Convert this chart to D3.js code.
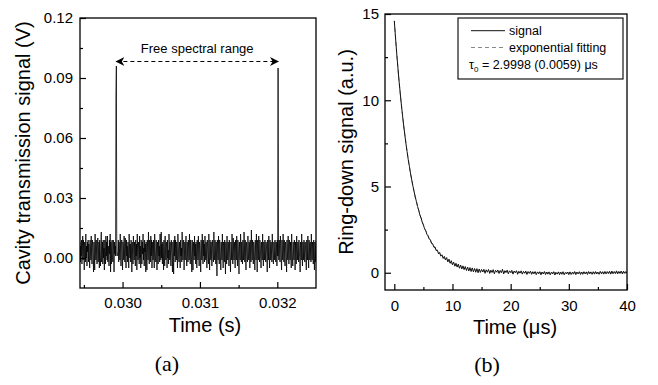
<!DOCTYPE html>
<html>
<head>
<meta charset="utf-8">
<script src="https://cdn.jsdelivr.net/npm/d3@7"></script>
<style>
  html, body { margin: 0; padding: 0; background: #fff; }
  svg { display: block; }
  text { font-family: "Liberation Sans", Arial, sans-serif; fill: #000; }
  text.caption { font-family: "Liberation Serif", "DejaVu Serif", serif; }
</style>
</head>
<body>
<svg id="chart" width="658" height="385"></svg>
<script>
// ---------- Panel (a) data: cavity transmission signal in mV ----------
const leftT0 = 0.02945;     // s, first sample time
const leftDt = 0.000005;    // s, sampling interval
const leftSignalMV = [
 8,-2,6,1,9,-3,4,11,-1,9,2,-6,8,5,-2,12,0,6,-4,8,
 3,9,-2,7,1,-5,9,4,-1,11,2,-3,9,6,0,-7,8,3,-6,12,
 5,-1,9,2,-3,7,10,-2,4,8,-5,9,1,-4,6,13,-2,3,8,-3,
 9,0,5,-6,9,4,-3,11,1,8,-1,11,-2,6,3,-4,9,2,12,-7,
 8,-3,5,9,0,-2,9,4,-7,8,2,6,1,81,96,2,1,2,3,9,
 -2,8,4,-1,12,3,-4,7,9,0,-6,8,5,-1,11,2,-2,10,4,-5,
 9,1,6,-2,8,3,-5,12,5,0,7,-2,9,4,-7,8,2,-3,11,6,
 -1,8,3,-4,9,1,7,-6,12,3,-1,8,5,-3,11,0,6,-5,9,4,
 -3,8,2,12,-1,5,-4,9,3,7,-7,8,0,-6,9,4,-1,13,2,-3,
 9,5,-2,11,1,9,-5,4,8,-1,9,2,-5,12,6,0,-2,9,3,-6,
 8,4,-3,9,1,6,-2,12,3,-1,13,0,7,-3,8,5,-6,9,1,-4,
 11,3,-1,8,6,-5,9,0,4,-3,12,7,-1,8,2,-4,9,5,0,-7,
 8,3,-8,9,1,11,-2,9,4,-1,8,2,-5,12,7,0,-2,8,3,-5,
 9,1,5,-2,13,4,-1,7,9,-6,2,8,-1,6,11,0,-4,8,3,-2,
 9,5,-1,12,2,-3,9,6,0,-7,9,3,-6,8,4,-1,11,1,7,-3,
 8,2,-5,9,5,-1,11,3,-4,8,6,0,-7,9,3,-1,12,4,-3,9,
 1,7,-2,11,4,-1,8,2,-5,9,6,0,-3,12,3,-6,9,5,-1,8,
 2,-4,9,6,0,-2,13,3,-1,9,4,-3,8,1,-9,9,5,-1,11,2,
 -3,9,6,0,-6,8,4,-1,12,3,-5,8,7,-2,9,1,-8,8,4,-3,
 11,2,-1,8,5,-4,9,3,0,-7,8,6,-1,12,2,-3,10,4,-1,8,
 3,-5,9,5,-1,11,2,-4,9,6,0,-8,8,3,-1,12,5,-2,8,1,
 -3,9,4,-1,13,6,-2,9,2,-6,8,5,0,-2,11,3,-1,8,7,-5,
 9,1,-2,14,4,-1,9,3,-3,8,6,0,-6,9,4,-1,12,2,-7,9,
 5,-1,11,3,-2,9,6,0,-5,8,4,-1,12,2,-4,8,5,-1,9,3,
 -2,8,6,0,-7,9,4,-1,11,2,-5,9,6,-1,8,3,-2,12,5,0,
 -3,8,4,-1,9,2,-2,8,6,-4,9,1,95,3,-1,9,4,-2,11,6,
 0,-6,9,3,-1,12,5,-2,9,1,-4,8,6,0,-7,9,3,-1,11,4,
 -3,9,6,-1,8,2,-5,12,5,0,-4,8,3,-1,9,6,-6,8,1,-3,
 11,4,-1,8,6,-2,9,3,0,-7,8,5,-1,12,2,-4,8,6,-1,9,
 3,-2,8,5,0,-6,9,4,-1,11,2,-5,9,6,-1,8,3,-2,12,4,
 -1,8,5,-3,9,2,-6,8,6,-2,9
];
const leftXDomain = [0.02945, 0.0325];
const leftYDomainMV = [-15, 120];
const leftXMajor = [0.030, 0.031, 0.032];
const leftXMajorLabels = ["0.030", "0.031", "0.032"];
const leftXMinor = [0.0295, 0.0305, 0.0315];
const leftYMajorMV = [0, 30, 60, 90, 120];
const leftYMajorLabels = ["0.00", "0.03", "0.06", "0.09", "0.12"];
const leftYMinorMV = [15, 45, 75, 105];
const fsrStart = 0.02992, fsrEnd = 0.03201, fsrLevelMV = 98;

// ---------- Panel (b) data: ring-down signal ----------
const rightT0 = 0;      // µs
const rightDt = 0.2;    // µs
const ringSignal = [
 14.60,13.67,12.77,11.96,11.17,10.47,9.78,9.17,8.56,8.02,7.49,
 7.02,6.55,6.15,5.73,5.38,5.02,4.71,4.39,4.13,3.84,
 3.62,3.35,3.18,2.93,2.78,2.55,2.45,2.23,2.15,1.95,
 1.92,1.70,1.68,1.48,1.50,1.28,1.31,1.10,1.18,0.96,
 1.04,0.83,0.95,0.74,0.88,0.63,0.79,0.55,0.70,0.46,
 0.62,0.38,0.55,0.33,0.50,0.26,0.45,0.22,0.40,0.18,
 0.36,0.13,0.33,0.10,0.30,0.07,0.28,0.05,0.25,0.03,
 0.24,0.00,0.22,0.02,0.19,0.05,0.20,-0.03,0.17,0.03,
 0.19,-0.04,0.15,0.02,0.18,-0.06,0.14,0.05,0.16,-0.04,
 0.13,0.00,0.20,-0.07,0.12,0.03,0.15,-0.06,0.11,0.02,
 0.14,-0.08,0.10,0.00,0.12,-0.09,0.09,-0.02,0.11,-0.08,
 0.08,-0.03,0.10,-0.10,0.07,-0.04,0.09,-0.09,0.06,-0.06,
 0.07,-0.11,0.05,-0.06,0.06,-0.12,0.04,-0.07,0.07,-0.11,
 0.04,-0.08,0.05,-0.12,0.03,-0.07,0.06,-0.13,0.02,-0.08,
 0.05,-0.11,0.03,-0.09,0.06,-0.12,0.02,-0.07,0.04,-0.11,
 0.05,-0.10,0.03,-0.08,0.07,-0.11,0.04,-0.07,0.06,-0.10,
 0.04,-0.09,0.06,-0.07,0.05,-0.10,0.07,-0.06,0.05,-0.09,
 0.06,-0.08,0.07,-0.07,0.04,-0.09,0.08,-0.06,0.06,-0.08,
 0.08,-0.07,0.07,-0.05,0.09,-0.08,0.10,-0.06,0.07,-0.05,
 0.11,-0.06,0.08,-0.04,0.10,-0.07,0.09,-0.03,0.07,-0.05
];
const fitTimes  = [0, 0.5, 1, 1.5, 2, 2.5, 3, 3.5, 4, 5, 6, 7, 8, 9, 10, 12, 14, 16, 20, 25, 30, 40];
const fitValues = [14.6, 12.36, 10.46, 8.86, 7.50, 6.35, 5.37, 4.55, 3.85, 2.76, 1.98, 1.42, 1.02, 0.73, 0.52, 0.27, 0.14, 0.07, 0.02, 0.0, 0.0, 0.0];
const rightXDomain = [-1.6, 40];
const rightYDomain = [-1, 15];
const rightXMajor = [0, 10, 20, 30, 40];
const rightXMinor = [5, 15, 25, 35];
const rightYMajor = [0, 5, 10, 15];
const rightYMinor = [2.5, 7.5, 12.5];
const legendLabels = ["signal", "exponential fitting"];

// ---------- drawing ----------
const svg = d3.select("#chart");
svg.append("rect").attr("width", 658).attr("height", 385).attr("fill", "#fff");

const defs = svg.append("defs");
["a", "b"].forEach(id => {
  defs.append("marker").attr("id", "arrow-" + id)
    .attr("viewBox", "0 0 10 10").attr("refX", 9).attr("refY", 5)
    .attr("markerWidth", 9).attr("markerHeight", 9).attr("orient", "auto-start-reverse")
    .attr("markerUnits", "userSpaceOnUse")
    .append("path").attr("d", "M0,0 L10,5 L0,10 L3,5 Z").attr("fill", "#000");
});

function styleAxis(g) {
  g.select(".domain").remove();
  g.selectAll(".tick line").attr("stroke", "#000").attr("stroke-width", 1.2);
  g.selectAll(".tick text").attr("font-size", 15).attr("fill", "#000");
}

// ---- Panel (a) ----
const L = { x0: 80, x1: 316, y0: 18, y1: 288 };
const lx = d3.scaleLinear().domain(leftXDomain).range([L.x0, L.x1]);
const ly = d3.scaleLinear().domain(leftYDomainMV).range([L.y1, L.y0]);

defs.append("clipPath").attr("id", "clipL").append("rect")
  .attr("x", L.x0).attr("y", L.y0).attr("width", L.x1 - L.x0).attr("height", L.y1 - L.y0);

const leftLine = d3.line()
  .x((d, i) => lx(leftT0 + i * leftDt))
  .y(d => ly(d));
svg.append("path").datum(leftSignalMV)
  .attr("clip-path", "url(#clipL)")
  .attr("d", leftLine).attr("fill", "none")
  .attr("stroke", "#000").attr("stroke-width", 0.8);

svg.append("g").attr("transform", `translate(0,${L.y1})`)
  .call(d3.axisBottom(lx).tickValues(leftXMajor).tickSize(-6).tickPadding(9)
    .tickFormat((d, i) => leftXMajorLabels[i]))
  .call(styleAxis);
svg.append("g").attr("transform", `translate(0,${L.y1})`)
  .call(d3.axisBottom(lx).tickValues(leftXMinor).tickSize(-3).tickFormat(""))
  .call(styleAxis);
svg.append("g").attr("transform", `translate(${L.x0},0)`)
  .call(d3.axisLeft(ly).tickValues(leftYMajorMV).tickSize(-6).tickPadding(7)
    .tickFormat((d, i) => leftYMajorLabels[i]))
  .call(styleAxis);
svg.append("g").attr("transform", `translate(${L.x0},0)`)
  .call(d3.axisLeft(ly).tickValues(leftYMinorMV).tickSize(-3).tickFormat(""))
  .call(styleAxis);

svg.append("rect").attr("x", L.x0).attr("y", L.y0)
  .attr("width", L.x1 - L.x0).attr("height", L.y1 - L.y0)
  .attr("fill", "none").attr("stroke", "#000").attr("stroke-width", 1.3);

// FSR annotation
svg.append("line")
  .attr("x1", lx(fsrStart)).attr("x2", lx(fsrEnd))
  .attr("y1", ly(fsrLevelMV) - 0.5).attr("y2", ly(fsrLevelMV) - 0.5)
  .attr("stroke", "#000").attr("stroke-width", 1.1).attr("stroke-dasharray", "4,3")
  .attr("marker-start", "url(#arrow-a)").attr("marker-end", "url(#arrow-b)");
svg.append("text").attr("x", (lx(fsrStart) + lx(fsrEnd)) / 2).attr("y", 52.6)
  .attr("text-anchor", "middle").attr("font-size", 13).text("Free spectral range");

svg.append("text").attr("x", 205).attr("y", 332).attr("text-anchor", "middle")
  .attr("font-size", 20).text("Time (s)");
svg.append("text").attr("transform", `translate(30,${(L.y0 + L.y1) / 2}) rotate(-90)`)
  .attr("text-anchor", "middle").attr("font-size", 20).text("Cavity transmission signal (V)");
svg.append("text").attr("class", "caption").attr("x", 167).attr("y", 371)
  .attr("text-anchor", "middle").attr("font-size", 22).text("(a)");

// ---- Panel (b) ----
const R = { x0: 385, x1: 627, y0: 14, y1: 290 };
const rx = d3.scaleLinear().domain(rightXDomain).range([R.x0, R.x1]);
const ry = d3.scaleLinear().domain(rightYDomain).range([R.y1, R.y0]);

defs.append("clipPath").attr("id", "clipR").append("rect")
  .attr("x", R.x0).attr("y", R.y0).attr("width", R.x1 - R.x0).attr("height", R.y1 - R.y0);

const fitLine = d3.line().curve(d3.curveMonotoneX)
  .x((d, i) => rx(fitTimes[i])).y(d => ry(d));
svg.append("path").datum(fitValues).attr("clip-path", "url(#clipR)")
  .attr("d", fitLine).attr("fill", "none")
  .attr("stroke", "#888").attr("stroke-width", 1).attr("stroke-dasharray", "4,3");

const ringLine = d3.line()
  .x((d, i) => rx(rightT0 + i * rightDt)).y(d => ry(d));
svg.append("path").datum(ringSignal).attr("clip-path", "url(#clipR)")
  .attr("d", ringLine).attr("fill", "none")
  .attr("stroke", "#111").attr("stroke-width", 1);

svg.append("g").attr("transform", `translate(0,${R.y1})`)
  .call(d3.axisBottom(rx).tickValues(rightXMajor).tickSize(-6).tickPadding(10)
    .tickFormat(d3.format("d")))
  .call(styleAxis);
svg.append("g").attr("transform", `translate(0,${R.y1})`)
  .call(d3.axisBottom(rx).tickValues(rightXMinor).tickSize(-3).tickFormat(""))
  .call(styleAxis);
svg.append("g").attr("transform", `translate(${R.x0},0)`)
  .call(d3.axisLeft(ry).tickValues(rightYMajor).tickSize(-6).tickPadding(6)
    .tickFormat(d3.format("d")))
  .call(styleAxis);
svg.append("g").attr("transform", `translate(${R.x0},0)`)
  .call(d3.axisLeft(ry).tickValues(rightYMinor).tickSize(-3).tickFormat(""))
  .call(styleAxis);

svg.append("rect").attr("x", R.x0).attr("y", R.y0)
  .attr("width", R.x1 - R.x0).attr("height", R.y1 - R.y0)
  .attr("fill", "none").attr("stroke", "#000").attr("stroke-width", 1.3);

// legend
const lg = svg.append("g");
lg.append("rect").attr("x", 458).attr("y", 18).attr("width", 165).attr("height", 61)
  .attr("fill", "#fff").attr("stroke", "#000").attr("stroke-width", 1.1);
const rowsY = [30.7, 47.5];
lg.append("line").attr("x1", 471).attr("x2", 505).attr("y1", rowsY[0]).attr("y2", rowsY[0])
  .attr("stroke", "#111").attr("stroke-width", 1);
lg.append("line").attr("x1", 471).attr("x2", 505).attr("y1", rowsY[1]).attr("y2", rowsY[1])
  .attr("stroke", "#888").attr("stroke-width", 1).attr("stroke-dasharray", "4,3");
legendLabels.forEach((t, i) => {
  lg.append("text").attr("x", 509).attr("y", rowsY[i] + 4.5).attr("font-size", 12.5).text(t);
});
const tau = lg.append("text").attr("x", 469).attr("y", 69).attr("font-size", 12.5);
tau.append("tspan").text("τ");
tau.append("tspan").attr("font-size", 8).attr("dy", 3).text("0");
tau.append("tspan").attr("dy", -3).text(" = 2.9998 (0.0059) μs");

svg.append("text").attr("x", 515).attr("y", 334).attr("text-anchor", "middle")
  .attr("font-size", 20).text("Time (μs)");
svg.append("text").attr("transform", `translate(353,${(R.y0 + R.y1) / 2}) rotate(-90)`)
  .attr("text-anchor", "middle").attr("font-size", 20).text("Ring-down signal (a.u.)");
svg.append("text").attr("class", "caption").attr("x", 487).attr("y", 372)
  .attr("text-anchor", "middle").attr("font-size", 22).text("(b)");
</script>
</body>
</html>
